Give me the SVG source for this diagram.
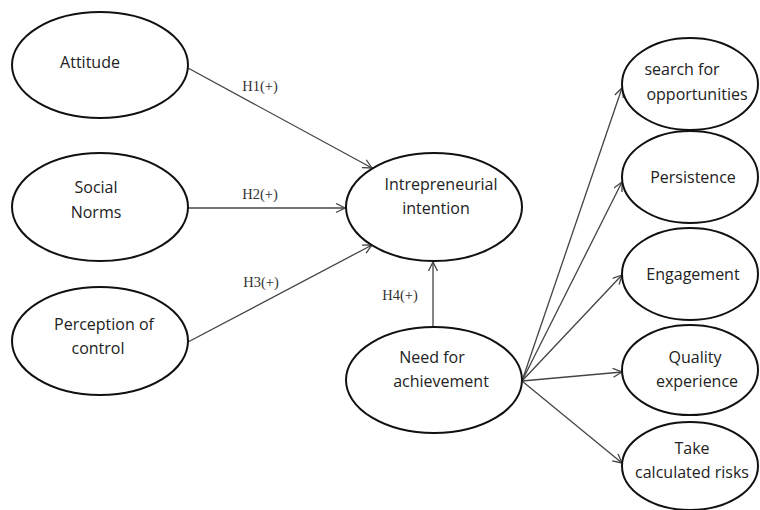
<svg xmlns="http://www.w3.org/2000/svg" width="760" height="510" viewBox="0 0 760 510">
<defs>
<marker id="arr" markerWidth="12" markerHeight="12" refX="10" refY="5" orient="auto" markerUnits="userSpaceOnUse">
<path d="M1,0.5 L10,5 L1,9.5" fill="none" stroke="#444" stroke-width="1.3"/>
</marker>
<style>
.n{fill:#fff;stroke:#111;stroke-width:2}
.t{font-family:"Open Sans","DejaVu Sans",sans-serif;font-size:16px;fill:#222;text-anchor:middle}
.h{font-family:"Liberation Serif","Times New Roman",serif;font-size:14.5px;fill:#333;text-anchor:middle}
.c{stroke:#444;stroke-width:1.3;fill:none;marker-end:url(#arr)}
</style>
</defs>
<rect width="760" height="510" fill="#fff"/>
<g id="connectors">
<line class="c" x1="188" y1="68" x2="372" y2="168"/>
<line class="c" x1="188" y1="208" x2="345" y2="208"/>
<line class="c" x1="188" y1="342" x2="372" y2="245"/>
<line class="c" x1="433" y1="327" x2="433" y2="262"/>
<line class="c" x1="522" y1="381" x2="622" y2="88"/>
<line class="c" x1="522" y1="381" x2="622" y2="182"/>
<line class="c" x1="522" y1="381" x2="622" y2="275"/>
<line class="c" x1="522" y1="381" x2="622" y2="372"/>
<line class="c" x1="522" y1="381" x2="622" y2="463"/>
<text class="h" x="260" y="91">H1(+)</text>
<text class="h" x="260" y="199">H2(+)</text>
<text class="h" x="261" y="287">H3(+)</text>
<text class="h" x="400" y="300">H4(+)</text>
</g>
<g id="attitude"><ellipse class="n" cx="100" cy="65" rx="88" ry="53"/><text class="t" x="90" y="68">Attitude</text></g>
<g id="social-norms"><ellipse class="n" cx="100" cy="207" rx="88" ry="54"/><text class="t" x="96" y="193">Social</text><text class="t" x="96" y="218">Norms</text></g>
<g id="perception"><ellipse class="n" cx="100" cy="341" rx="88" ry="54"/><text class="t" x="104" y="330">Perception of</text><text class="t" x="98" y="354">control</text></g>
<g id="intention"><ellipse class="n" cx="434" cy="207" rx="88" ry="54"/><text class="t" x="441" y="190">Intrepreneurial</text><text class="t" x="436" y="214">intention</text></g>
<g id="need"><ellipse class="n" cx="434" cy="380" rx="88" ry="53"/><text class="t" x="432" y="363">Need for</text><text class="t" x="441" y="387">achievement</text></g>
<g id="search"><ellipse class="n" cx="690" cy="84" rx="68" ry="46"/><text class="t" x="682" y="75">search for</text><text class="t" x="697" y="100">opportunities</text></g>
<g id="persistence"><ellipse class="n" cx="690" cy="177" rx="68" ry="46"/><text class="t" x="693" y="183">Persistence</text></g>
<g id="engagement"><ellipse class="n" cx="690" cy="274" rx="68" ry="46"/><text class="t" x="693" y="280">Engagement</text></g>
<g id="quality"><ellipse class="n" cx="690" cy="370" rx="68" ry="45"/><text class="t" x="695" y="363">Quality</text><text class="t" x="697" y="387">experience</text></g>
<g id="risks"><ellipse class="n" cx="690" cy="466" rx="68" ry="44"/><text class="t" x="692" y="454">Take</text><text class="t" x="692" y="478">calculated risks</text></g>
</svg>
